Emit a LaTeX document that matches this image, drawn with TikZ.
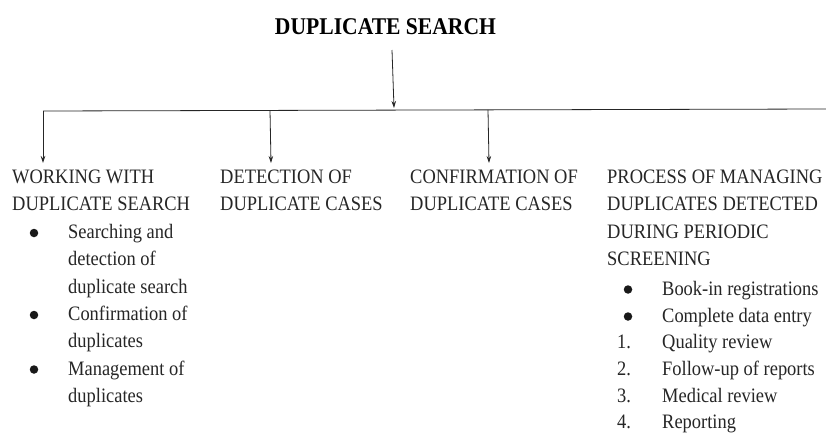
\documentclass[tikz,border=0pt]{standalone}
\usepackage{fontspec}
\setmainfont{Liberation Serif}[FakeStretch=0.9]
\usetikzlibrary{arrows.meta}
\definecolor{ink}{HTML}{262626}
\tikzset{
  txt/.style={anchor=base west, inner sep=0pt, text=ink, font=\fontsize{20.5}{27.3}\selectfont},
  ttl/.style={anchor=base, inner sep=0pt, text=black, font=\fontsize{24}{28}\selectfont\bfseries},
  conn/.style={draw=ink, line width=0.8pt},
  arr/.style={conn, -{Stealth[length=7pt,width=4.5pt]}},
  dot/.style={circle, fill=black!90, inner sep=0pt, minimum size=8.5pt}
}
\begin{document}
\begin{tikzpicture}[x=1pt,y=-1pt]
\useasboundingbox[fill=white] (0,0) rectangle (826,436);
% title
\node[ttl] (title) at (385.5,35) {DUPLICATE SEARCH};
\coordinate (tstart) at (392,50);
\coordinate (tend) at (394,108);
\draw[arr] (tstart) -- (tend);
% main horizontal line
\coordinate (hl) at (43,111);
\coordinate (hr) at (826,109);
\draw[conn] (hl) -- (hr);
% branch points
\coordinate (b1) at (43,111);
\coordinate (b2) at (270,110.3);
\coordinate (b3) at (488,109.8);
\coordinate (e1) at (43,163);
\coordinate (e2) at (271,163);
\coordinate (e3) at (489,163);
\draw[arr] (b1) -- (e1);
\draw[arr] (b2) -- (e2);
\draw[arr] (b3) -- (e3);
% column 1
\node[txt] (c1a) at (12,183.5) {WORKING WITH};
\node[txt] (c1b) at (12,210.8) {DUPLICATE SEARCH};
\node[dot] (d1) at (34,233) {};
\node[txt] (c1c) at (68,238.6) {Searching and};
\node[txt] (c1d) at (68,265.9) {detection of};
\node[txt] (c1e) at (68,293.2) {duplicate search};
\node[dot] (d2) at (34,315) {};
\node[txt] (c1f) at (68,320.5) {Confirmation of};
\node[txt] (c1g) at (68,347.8) {duplicates};
\node[dot] (d3) at (34,369.5) {};
\node[txt] (c1h) at (68,375.1) {Management of};
\node[txt] (c1i) at (68,402.4) {duplicates};
% column 2
\node[txt] (c2a) at (220,183.5) {DETECTION OF};
\node[txt] (c2b) at (220,210.8) {DUPLICATE CASES};
% column 3
\node[txt] (c3a) at (410,183.5) {CONFIRMATION OF};
\node[txt] (c3b) at (410,210.8) {DUPLICATE CASES};
% column 4
\node[txt] (c4a) at (607,183.5) {PROCESS OF MANAGING};
\node[txt] (c4b) at (607,210.8) {DUPLICATES DETECTED};
\node[txt] (c4c) at (607,238.1) {DURING PERIODIC};
\node[txt] (c4d) at (607,265.4) {SCREENING};
\node[dot] (d4) at (628,289.5) {};
\node[txt] (c4e) at (662,295) {Book-in registrations};
\node[dot] (d5) at (628,316.5) {};
\node[txt] (c4f) at (662,322) {Complete data entry};
\node[txt] (n1) at (617,348.7) {1.};
\node[txt] (c4g) at (662,348.7) {Quality review};
\node[txt] (n2) at (617,375.4) {2.};
\node[txt] (c4h) at (662,375.4) {Follow-up of reports};
\node[txt] (n3) at (617,402.1) {3.};
\node[txt] (c4i) at (662,402.1) {Medical review};
\node[txt] (n4) at (617,428.8) {4.};
\node[txt] (c4j) at (662,428.8) {Reporting};
\end{tikzpicture}
\end{document}
